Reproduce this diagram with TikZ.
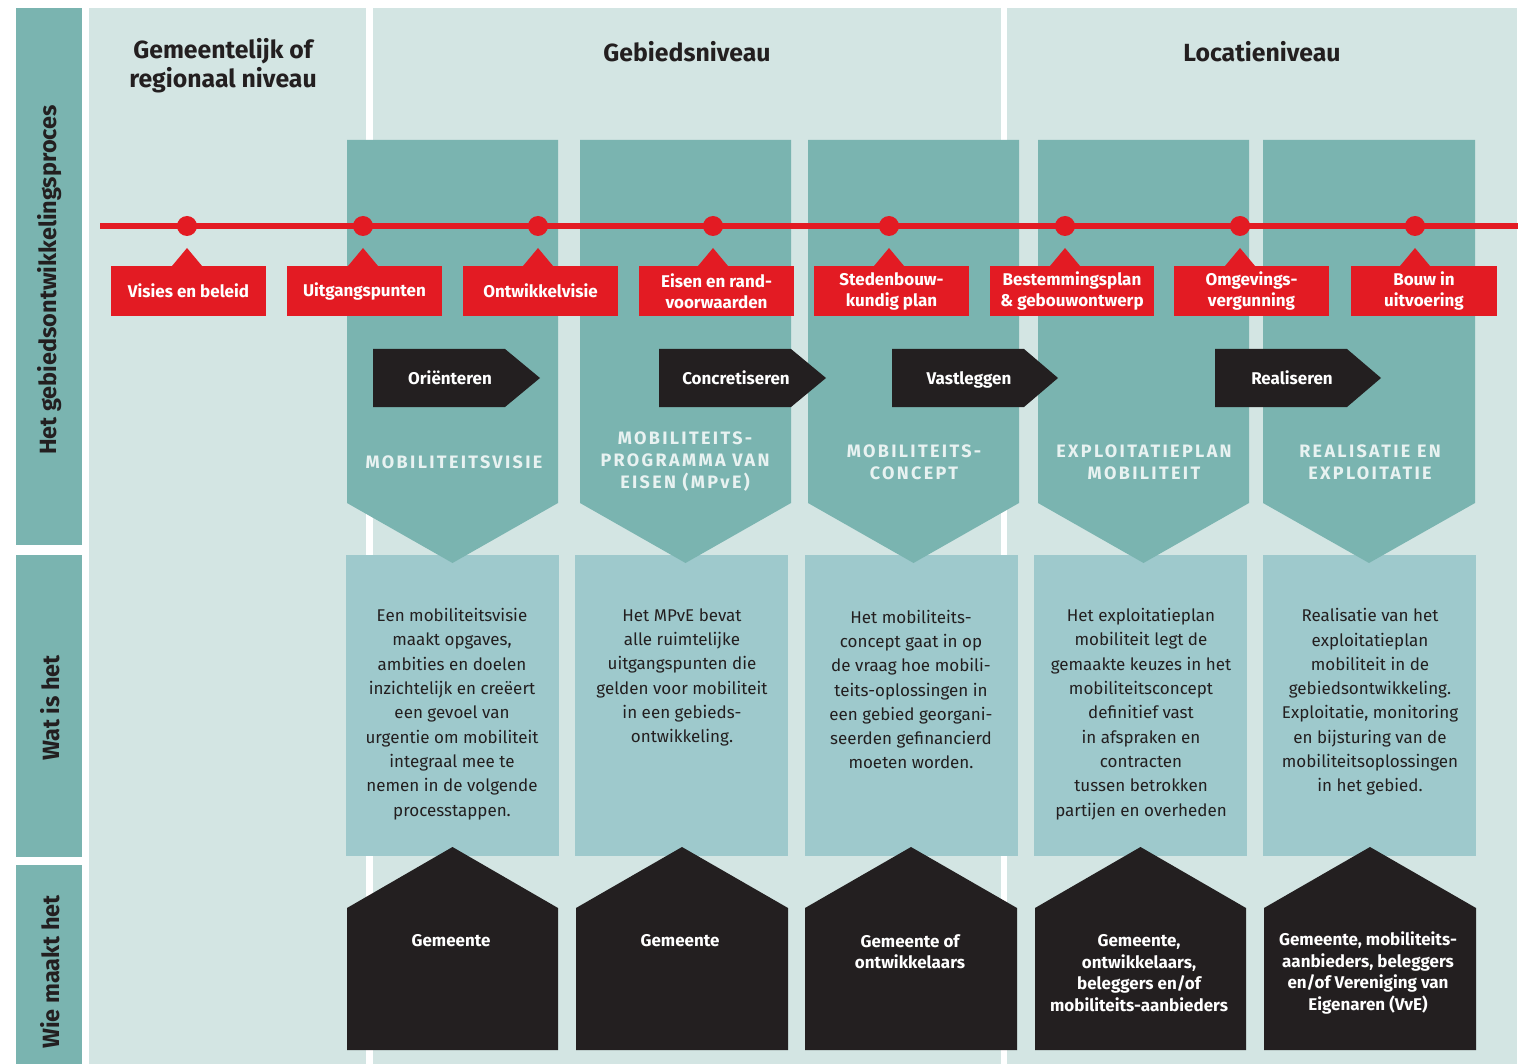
\documentclass[tikz,border=0pt]{standalone}
\usepackage{fontspec}
\setmainfont{Fira Sans}
\usepackage{tikz}

\begin{document}
\begin{tikzpicture}[x=1pt,y=-1pt,line cap=rect,
	hdr/.style={font=\bfseries\fontsize{24.8}{29}\selectfont, text=ink, align=center, inner sep=0},
	side/.style={font=\bfseries\fontsize{23.5}{26}\selectfont, text=ink, rotate=90, inner sep=0},
	redlbl/.style={font=\bfseries\fontsize{17}{21}\selectfont, text=white, align=center, inner sep=0},
	fase/.style={font=\bfseries\fontsize{17}{21}\selectfont, text=white, inner sep=0, text height=12.5, text depth=3.5},
	kop/.style={font=\bfseries\fontsize{18}{22}\selectfont\addfontfeature{LetterSpace=13}, text=koptxt, align=center, inner sep=0},
	body/.style={font=\fontsize{17}{24.3}\selectfont, text=ink, align=center, inner sep=0},
	wie/.style={font=\bfseries\fontsize{17}{21.5}\selectfont, text=white, align=center, inner sep=0},
	dot/.style={circle, fill=rood, minimum size=20, inner sep=0}]
	\definecolor{ink}{RGB}{35, 31, 32}
	\definecolor{rood}{RGB}{227, 27, 35}
	\definecolor{petrol}{RGB}{122, 180, 176}
	\definecolor{bleek}{RGB}{211, 229, 227}
	\definecolor{lichtblauw}{RGB}{158, 201, 204}
	\definecolor{koptxt}{RGB}{232, 242, 241}
	\useasboundingbox (0,0) rectangle (1520,1064);
	\fill [white] (0,0) rectangle (1520,1064);
	% achtergrond en zijbalk
	\fill [bleek] (89,8) rectangle (366,1064);
	\fill [bleek] (373,8) rectangle (1001,1064);
	\fill [bleek] (1007,8) rectangle (1517,1064);
	\fill [petrol] (16,8) rectangle (82,545);
	\fill [petrol] (16,555) rectangle (82,857);
	\fill [petrol] (16,865) rectangle (82,1064);
	\node[side] (proces) at (50,280) {Het gebiedsontwikkelingsproces};
	\node[side] (watis) at (50,708) {Wat is het};
	\node[side] (wiemaakt) at (50,972) {Wie maakt het};
	\node[hdr] (regio) at (223,66) {Gemeentelijk of\\regionaal niveau};
	\node[hdr] (gebied) at (687,51.5) {Gebiedsniveau};
	\node[hdr] (locatie) at (1262,51.5) {Locatieniveau};
	% lichte vakken
	\fill [lichtblauw] (346,555) rectangle (559,856);
	\fill [lichtblauw] (575,555) rectangle (788,856);
	\fill [lichtblauw] (805,555) rectangle (1018,856);
	\fill [lichtblauw] (1034,555) rectangle (1247,856);
	\fill [lichtblauw] (1263,555) rectangle (1476,856);
	% kolommen met punt
	\fill [petrol] (347,140) -- (558,140) -- (558,503) -- (452.5,563) -- (347,503) -- cycle;
	\fill [petrol] (580,140) -- (791,140) -- (791,503) -- (685.5,563) -- (580,503) -- cycle;
	\fill [petrol] (808,140) -- (1019,140) -- (1019,503) -- (913.5,563) -- (808,503) -- cycle;
	\fill [petrol] (1038,140) -- (1249,140) -- (1249,503) -- (1143.5,563) -- (1038,503) -- cycle;
	\fill [petrol] (1263,140) -- (1475,140) -- (1475,503) -- (1369,563) -- (1263,503) -- cycle;
	% huisjes
	\fill [ink] (347,1050) -- (347,908) -- (452.5,847) -- (558,908) -- (558,1050) -- cycle;
	\fill [ink] (576,1050) -- (576,908) -- (682,847) -- (788,908) -- (788,1050) -- cycle;
	\fill [ink] (805,1050) -- (805,908) -- (911,847) -- (1017,908) -- (1017,1050) -- cycle;
	\fill [ink] (1035,1050) -- (1035,908) -- (1140.5,847) -- (1246,908) -- (1246,1050) -- cycle;
	\fill [ink] (1264,1050) -- (1264,908) -- (1370,847) -- (1476,908) -- (1476,1050) -- cycle;
	% tijdlijn
	\coordinate (tlstart) at (100,226);
	\coordinate (tlend) at (1518,226);
	\draw [line width=6.0pt, rood, line cap=butt] (tlstart) -- (tlend);
	\node[dot] (dot1) at (187,226) {};
	\node[dot] (dot2) at (363,226) {};
	\node[dot] (dot3) at (538,226) {};
	\node[dot] (dot4) at (713,226) {};
	\node[dot] (dot5) at (889,226) {};
	\node[dot] (dot6) at (1065,226) {};
	\node[dot] (dot7) at (1240,226) {};
	\node[dot] (dot8) at (1415,226) {};
	% rode labels
	\fill [rood] (111,266) rectangle (266,316);
	\fill [rood] (172,266) -- (187,248) -- (202,266) -- cycle;
	\node[redlbl] (visies) at (188.5,291) {Visies en beleid};
	\fill [rood] (287,266) rectangle (442,316);
	\fill [rood] (348,266) -- (363,248) -- (378,266) -- cycle;
	\node[redlbl] (uitgang) at (364.5,291.5) {Uitgangspunten};
	\fill [rood] (463,266) rectangle (618,316);
	\fill [rood] (523,266) -- (538,248) -- (553,266) -- cycle;
	\node[redlbl] (ontwvisie) at (540.5,291) {Ontwikkelvisie};
	\fill [rood] (639,266) rectangle (794,316);
	\fill [rood] (698,266) -- (713,248) -- (728,266) -- cycle;
	\node[redlbl] (eisen) at (716.5,291) {Eisen en rand-\\voorwaarden};
	\fill [rood] (814,266) rectangle (969,316);
	\fill [rood] (874,266) -- (889,248) -- (904,266) -- cycle;
	\node[redlbl] (stedenb) at (891.5,291) {Stedenbouw-\\kundig plan};
	\fill [rood] (990,266) rectangle (1154,316);
	\fill [rood] (1050,266) -- (1065,248) -- (1080,266) -- cycle;
	\node[redlbl] (bestem) at (1072,291) {Bestemmingsplan\\\& gebouwontwerp};
	\fill [rood] (1174,266) rectangle (1329,316);
	\fill [rood] (1225,266) -- (1240,248) -- (1255,266) -- cycle;
	\node[redlbl] (omgev) at (1251.5,291) {Omgevings-\\vergunning};
	\fill [rood] (1351,266) rectangle (1497,316);
	\fill [rood] (1400,266) -- (1415,248) -- (1430,266) -- cycle;
	\node[redlbl] (bouw) at (1424,291) {Bouw in\\uitvoering};
	% fasepijlen
	\fill [ink] (373,349) -- (505,349) -- (540,378) -- (505,407) -- (373,407) -- cycle;
	\node[fase] (orient) at (450,380) {Oriënteren};
	\fill [ink] (659,349) -- (791,349) -- (826,378) -- (791,407) -- (659,407) -- cycle;
	\node[fase] (concreet) at (736,380) {Concretiseren};
	\fill [ink] (892,349) -- (1024,349) -- (1058,378) -- (1024,407) -- (892,407) -- cycle;
	\node[fase] (vastl) at (969,380) {Vastleggen};
	\fill [ink] (1215,349) -- (1347,349) -- (1381,378) -- (1347,407) -- (1215,407) -- cycle;
	\node[fase] (realis) at (1292,380) {Realiseren};
	% kolomkoppen
	\node[kop] (kop1) at (454,462) {MOBILITEITSVISIE};
	\node[kop] (kop2) at (685,462) {MOBILITEITS-\\PROGRAMMA VAN\\EISEN (MPvE)};
	\node[kop] (kop3) at (914,462) {MOBILITEITS-\\CONCEPT};
	\node[kop] (kop4) at (1144,462) {EXPLOITATIEPLAN\\MOBILITEIT};
	\node[kop] (kop5) at (1370,462) {REALISATIE EN\\EXPLOITATIE};
	% wat is het
	\node[body] (wat1) at (452,714) {Een mobiliteitsvisie\\maakt opgaves,\\ambities en doelen\\inzichtelijk en creëert\\een gevoel van\\urgentie om mobiliteit\\integraal mee te\\nemen in de volgende\\processtappen.};
	\node[body] (wat2) at (682,677.5) {Het MPvE bevat\\alle ruimtelijke\\uitgangspunten die\\gelden voor mobiliteit\\in een gebieds-\\ontwikkeling.};
	\node[body] (wat3) at (911,689.5) {Het mobiliteits-\\concept gaat in op\\de vraag hoe mobili-\\teits-oplossingen in\\een gebied georgani-\\seerden gefinancierd\\moeten worden.};
	\node[body] (wat4) at (1141,714) {Het exploitatieplan\\mobiliteit legt de\\gemaakte keuzes in het\\mobiliteitsconcept\\definitief vast\\in afspraken en\\contracten\\tussen betrokken\\partijen en overheden};
	\node[body] (wat5) at (1370,702) {Realisatie van het\\exploitatieplan\\mobiliteit in de\\gebiedsontwikkeling.\\Exploitatie, monitoring\\en bijsturing van de\\mobiliteitsoplossingen\\in het gebied.};
	% wie maakt het
	\node[wie] (wie1) at (451,941) {Gemeente};
	\node[wie] (wie2) at (680,941) {Gemeente};
	\node[wie] (wie3) at (910,951.5) {Gemeente of\\ontwikkelaars};
	\node[wie] (wie4) at (1139,973) {Gemeente,\\ontwikkelaars,\\beleggers en/of\\mobiliteits-aanbieders};
	\node[wie] (wie5) at (1368,973) {Gemeente, mobiliteits-\\aanbieders, beleggers\\en/of Vereniging van\\Eigenaren (VvE)};
\end{tikzpicture}
\end{document}
